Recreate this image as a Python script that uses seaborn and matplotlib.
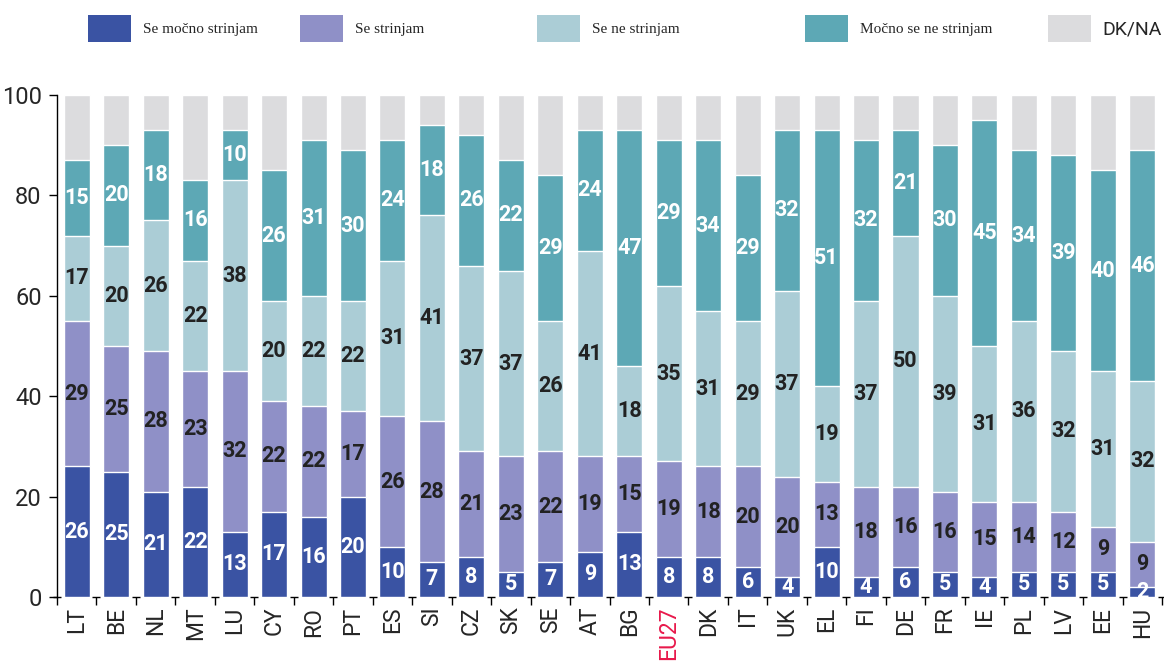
import matplotlib
matplotlib.use("Agg")
import matplotlib.pyplot as plt
from matplotlib import font_manager
from matplotlib.patches import Rectangle
import seaborn as sns
import numpy as np
import pandas as pd

categories = ["LT", "BE", "NL", "MT", "LU", "CY", "RO", "PT", "ES", "SI", "CZ", "SK", "SE", "AT",
              "BG", "EU27", "DK", "IT", "UK", "EL", "FI", "DE", "FR", "IE", "PL", "LV", "EE", "HU"]
strongly_agree = [26, 25, 21, 22, 13, 17, 16, 20, 10, 7, 8, 5, 7, 9, 13, 8, 8, 6, 4, 10, 4, 6, 5, 4, 5, 5, 5, 2]
agree = [29, 25, 28, 23, 32, 22, 22, 17, 26, 28, 21, 23, 22, 19, 15, 19, 18, 20, 20, 13, 18, 16, 16, 15, 14, 12, 9, 9]
disagree = [17, 20, 26, 22, 38, 20, 22, 22, 31, 41, 37, 37, 26, 41, 18, 35, 31, 29, 37, 19, 37, 50, 39, 31, 36, 32, 31, 32]
strongly_disagree = [15, 20, 18, 16, 10, 26, 31, 30, 24, 18, 26, 22, 29, 24, 47, 29, 34, 29, 32, 51, 32, 21, 30, 45, 34, 39, 40, 46]
dkna = [100 - a - b - c - d for a, b, c, d in zip(strongly_agree, agree, disagree, strongly_disagree)]

series_names = ["Se močno strinjam", "Se strinjam", "Se ne strinjam", "Močno se ne strinjam", "DK/NA"]
series_values = [strongly_agree, agree, disagree, strongly_disagree, dkna]
colors = ["#3a53a3", "#8f90c7", "#abcdd6", "#5da8b5", "#dcdcde"]
label_colors = ["white", "#222222", "#222222", "white", None]
y_ticks = [0, 20, 40, 60, 80, 100]

avail = {f.name for f in font_manager.fontManager.ttflist}
narrow = "Liberation Sans Narrow" if "Liberation Sans Narrow" in avail else "Roboto"

sns.set_style("white")
plt.rcParams["font.family"] = ["Roboto", "DejaVu Sans"]

fig = plt.figure(figsize=(11.64, 6.64), dpi=100)
ax = fig.add_axes([57 / 1164, 1 - 597 / 664, 1 - 57 / 1164, (597 - 95) / 664])

df = pd.DataFrame({"cat": categories})
cum = np.zeros(len(categories))
cums = []
for vals in series_values:
    cum = cum + np.array(vals)
    cums.append(cum.copy())

# draw from the top layer down so that stacks overlay
for k in range(len(series_values) - 1, -1, -1):
    df["v"] = cums[k]
    sns.barplot(data=df, x="cat", y="v", order=categories, color=colors[k], width=0.66,
                saturation=1, edgecolor="white", linewidth=1.0, ax=ax, zorder=2 + (4 - k))

# segment labels
for k in range(4):
    bottoms = cums[k] - np.array(series_values[k])
    for i, v in enumerate(series_values[k]):
        ax.text(i, bottoms[i] + v / 2, str(v), ha="center", va="center", fontsize=15.5,
                fontweight="bold", color=label_colors[k], zorder=20)

ax.set_xlim(-0.49, len(categories) - 0.45)
ax.set_ylim(0, 100)
ax.set_xlabel("")
ax.set_ylabel("")
for s in ["top", "right", "bottom"]:
    ax.spines[s].set_visible(False)
ax.spines["left"].set_color("black")
ax.spines["left"].set_linewidth(1.0)

ax.set_yticks(y_ticks)
ax.set_yticklabels([str(t) for t in y_ticks], fontsize=17, family=[narrow, "DejaVu Sans"])
ax.tick_params(axis="y", direction="out", length=6, width=1, color="black", pad=5, left=True)

ax.set_xticks(range(len(categories)))
ax.set_xticklabels(categories, rotation=90, fontsize=16.5, family=[narrow, "DejaVu Sans"])
ax.tick_params(axis="x", which="major", length=0, pad=7, bottom=True)
bounds = np.arange(len(categories) + 1) - 0.5
ax.set_xticks(bounds, minor=True)
ax.tick_params(axis="x", which="minor", direction="out", length=6, width=1, color="black", bottom=True)
ax.plot(bounds, np.zeros(len(bounds)), marker="_", markersize=6, markeredgewidth=1,
        lw=0, color="black", clip_on=False, zorder=30)
for lbl in ax.get_xticklabels():
    if lbl.get_text() == "EU27":
        lbl.set_color("#e8194b")

# legend (manual, figure coordinates)
leg_x = [88, 300, 537, 805, 1048]
for k, name in enumerate(series_names):
    x0 = leg_x[k]
    fig.patches.append(Rectangle((x0 / 1164, 1 - 42 / 664), 43 / 1164, 27 / 664,
                                 transform=fig.transFigure, facecolor=colors[k], edgecolor="none"))
    if k < 4:
        fig.text((x0 + 55) / 1164, 1 - 29 / 664, name, fontsize=11, va="center", ha="left",
                 family=["Liberation Serif", "DejaVu Serif"])
    else:
        fig.text((x0 + 54) / 1164, 1 - 29 / 664, name, fontsize=14, va="center", ha="left",
                 family=[narrow, "DejaVu Sans"])

fig.savefig("out.png", dpi=100)
